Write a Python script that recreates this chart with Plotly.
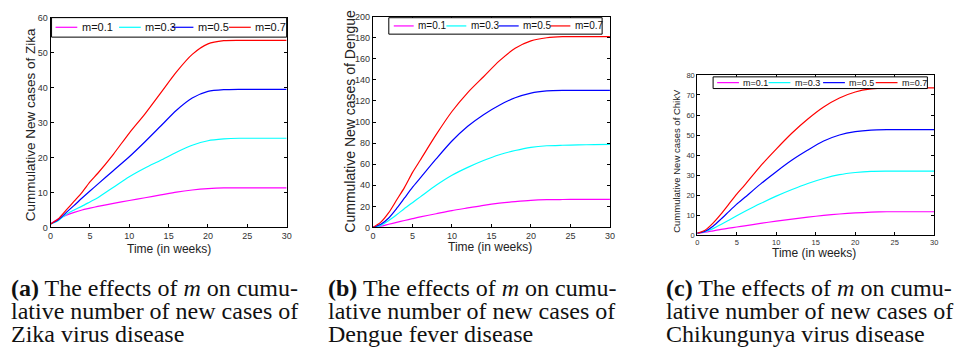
import plotly.graph_objects as go

W, H = 970, 349

# ---------------- data ----------------
t = [0, 1, 2, 3, 4, 5, 6, 8, 10, 12, 14, 16, 18, 20, 22, 24, 26, 28, 30]
labels = ["m=0.1", "m=0.3", "m=0.5", "m=0.7"]
colors = ["#ff00ff", "#00ffff", "#0000ff", "#ff0000"]

zika_m01 = [1, 2.5, 3.5, 4.3, 5.0, 5.5, 6.0, 6.9, 7.7, 8.5, 9.3, 10.1, 10.7, 11.1, 11.3, 11.3, 11.3, 11.3, 11.3]
zika_m03 = [1, 2.0, 3.8, 5.0, 6.1, 7.3, 8.5, 11.5, 14.5, 17.0, 19.2, 21.5, 23.5, 24.8, 25.3, 25.5, 25.5, 25.5, 25.5]
zika_m05 = [1, 2.2, 4.3, 6.3, 8.4, 10.4, 12.4, 16.3, 20.2, 24.5, 29.0, 33.5, 37.0, 38.9, 39.4, 39.5, 39.5, 39.5, 39.5]
zika_m07 = [1, 2.5, 5.0, 7.5, 10.0, 13.0, 15.5, 21.0, 27.0, 32.5, 38.5, 44.5, 49.5, 52.5, 53.4, 53.5, 53.5, 53.5, 53.5]

dengue_m01 = [0, 1.2, 3.0, 4.8, 6.6, 8.3, 10.0, 13.0, 16.0, 18.5, 21.0, 23.0, 24.5, 25.7, 26.3, 26.5, 26.6, 26.7, 26.7]
dengue_m03 = [0, 2.0, 6.5, 12.0, 18.0, 23.5, 29.0, 40.0, 49.5, 57.0, 63.5, 69.0, 73.0, 76.0, 77.5, 78.0, 78.3, 78.6, 78.8]
dengue_m05 = [0, 3.0, 9.0, 18.0, 28.0, 38.0, 47.0, 65.0, 82.0, 96.0, 107.0, 116.0, 123.0, 127.5, 129.5, 130.0, 130.0, 130.0, 130.0]
dengue_m07 = [0, 5.0, 14.0, 26.0, 38.0, 52.0, 64.0, 88.0, 110.0, 128.0, 143.0, 158.0, 170.0, 177.0, 180.0, 181.0, 181.0, 181.0, 181.0]

chikv_m01 = [1, 1.5, 2.2, 2.9, 3.5, 4.1, 4.7, 5.9, 7.0, 8.0, 9.0, 9.9, 10.6, 11.1, 11.5, 11.7, 11.7, 11.7, 11.7]
chikv_m03 = [1, 1.8, 3.3, 5.3, 7.5, 9.7, 11.8, 15.8, 19.5, 22.8, 25.8, 28.3, 30.2, 31.3, 31.9, 32.0, 32.0, 32.0, 32.0]
chikv_m05 = [1, 2.0, 4.5, 8.0, 11.8, 15.5, 18.8, 25.5, 31.7, 37.5, 42.5, 47.0, 50.0, 51.7, 52.5, 52.7, 52.7, 52.7, 52.7]
chikv_m07 = [1, 2.5, 6.0, 10.5, 15.5, 20.5, 25.0, 34.5, 43.0, 51.0, 58.0, 64.0, 68.5, 71.5, 73.0, 73.5, 73.5, 73.5, 73.5]

x_ticks = [0, 5, 10, 15, 20, 25, 30]
y_title = ["Cummulative New cases of Zika", "Cummulative New cases of Dengue", "Cummulative New cases of ChikV"]
x_title = "Time (in weeks)"
captions = [
    ["<b>(a)</b> The effects of <i>m</i> on cumu-", "lative number of new cases of", "Zika virus disease"],
    ["<b>(b)</b> The effects of <i>m</i> on cumu-", "lative number of new cases of", "Dengue fever disease"],
    ["<b>(c)</b> The effects of <i>m</i> on cumu-", "lative number of new cases of", "Chikungunya virus disease"],
]

panels = [
    dict(series=[zika_m01, zika_m03, zika_m05, zika_m07], yrange=[0, 60], dtick=10,
         px=(48, 286), py=(13, 229), tick=9, ytfont=13.5, ytpos=(28, 123), xtfont=12, xtpos=(167, 251),
         leg_box=(0.004, 1.0, 0.907, 1.0), leg_x=[0.021, 0.29, 0.513, 0.756], leg_len=0.092, leg_y=0.954, leg_font=11,
         cap_x=6),
    dict(series=[dengue_m01, dengue_m03, dengue_m05, dengue_m07], yrange=[0, 200], dtick=20,
         px=(373, 612), py=(12, 229), tick=9, ytfont=14, ytpos=(349, 120), xtfont=12, xtpos=(491, 249),
         leg_box=(0.067, 0.967, 0.917, 0.995), leg_x=[0.088, 0.31, 0.531, 0.749], leg_len=0.084, leg_y=0.956, leg_font=10,
         cap_x=326),
    dict(series=[chikv_m01, chikv_m03, chikv_m05, chikv_m07], yrange=[0, 80], dtick=10,
         px=(700, 939), py=(72, 237), tick=7.5, ytfont=9.5, ytpos=(679, 160), xtfont=12, xtpos=(818, 255),
         leg_box=(0.067, 0.971, 0.915, 0.988), leg_x=[0.084, 0.301, 0.531, 0.753], leg_len=0.092, leg_y=0.952, leg_font=9,
         cap_x=666),
]

fig = go.Figure()
shapes, annos = [], []
sans = "Liberation Sans, Arial, sans-serif"
serif = "Liberation Serif, Times New Roman, serif"

for i, p in enumerate(panels):
    n = "" if i == 0 else str(i + 1)
    xa, ya = "x" + n, "y" + n
    for s, c, lab in zip(p["series"], colors, labels):
        fig.add_trace(go.Scatter(x=t, y=s, mode="lines", name=lab, xaxis=xa, yaxis=ya,
                                 line=dict(color=c, width=1.2, shape="spline", smoothing=0.7),
                                 showlegend=False))
    ax = dict(domain=[p["px"][0] / W, p["px"][1] / W], range=[0, 30], tickvals=x_ticks,
              showline=True, mirror="ticks", linecolor="black", linewidth=1, ticks="inside",
              ticklen=3, tickcolor="black", showgrid=False, zeroline=False,
              tickfont=dict(family=sans, size=p["tick"], color="#333"), anchor=ya)
    ay = dict(domain=[1 - p["py"][1] / H, 1 - p["py"][0] / H], range=p["yrange"], dtick=p["dtick"],
              showline=True, mirror="ticks", linecolor="black", linewidth=1, ticks="inside",
              ticklen=3, tickcolor="black", showgrid=False, zeroline=False,
              tickfont=dict(family=sans, size=p["tick"], color="#333"), anchor=xa)
    fig.update_layout(**{"xaxis" + n: ax, "yaxis" + n: ay})

    xd, yd = xa + " domain", ya + " domain"
    b = p["leg_box"]
    shapes.append(dict(type="rect", xref=xd, yref=yd, x0=b[0], x1=b[1], y0=b[2], y1=b[3],
                       line=dict(color="black", width=1), fillcolor="white", layer="above"))
    for lx, c, lab in zip(p["leg_x"], colors, labels):
        shapes.append(dict(type="line", xref=xd, yref=yd, x0=lx, x1=lx + p["leg_len"], y0=p["leg_y"], y1=p["leg_y"],
                           line=dict(color=c, width=1.2), layer="above"))
        annos.append(dict(xref=xd, yref=yd, x=lx + p["leg_len"] + 0.01, y=p["leg_y"], text=lab, showarrow=False,
                          xanchor="left", yanchor="middle", font=dict(family=sans, size=p["leg_font"], color="#111")))
    annos.append(dict(xref="paper", yref="paper", x=p["ytpos"][0] / W, y=1 - p["ytpos"][1] / H, text=y_title[i],
                      textangle=-90, showarrow=False, xanchor="center", yanchor="middle",
                      font=dict(family=sans, size=p["ytfont"], color="#222")))
    annos.append(dict(xref="paper", yref="paper", x=p["xtpos"][0] / W, y=1 - p["xtpos"][1] / H, text=x_title,
                      showarrow=False, xanchor="center", yanchor="middle",
                      font=dict(family=sans, size=p["xtfont"], color="#222")))
    for k, line in enumerate(captions[i]):
        annos.append(dict(xref="paper", yref="paper", x=p["cap_x"] / W, y=1 - (291 + 24 * k) / H, text=line,
                          showarrow=False, xanchor="left", yanchor="middle",
                          font=dict(family=serif, size=24, color="#111")))

fig.update_layout(width=W, height=H, margin=dict(l=0, r=0, t=0, b=0), paper_bgcolor="white",
                  plot_bgcolor="white", shapes=shapes, annotations=annos, showlegend=False)
fig.write_html("out.html")
